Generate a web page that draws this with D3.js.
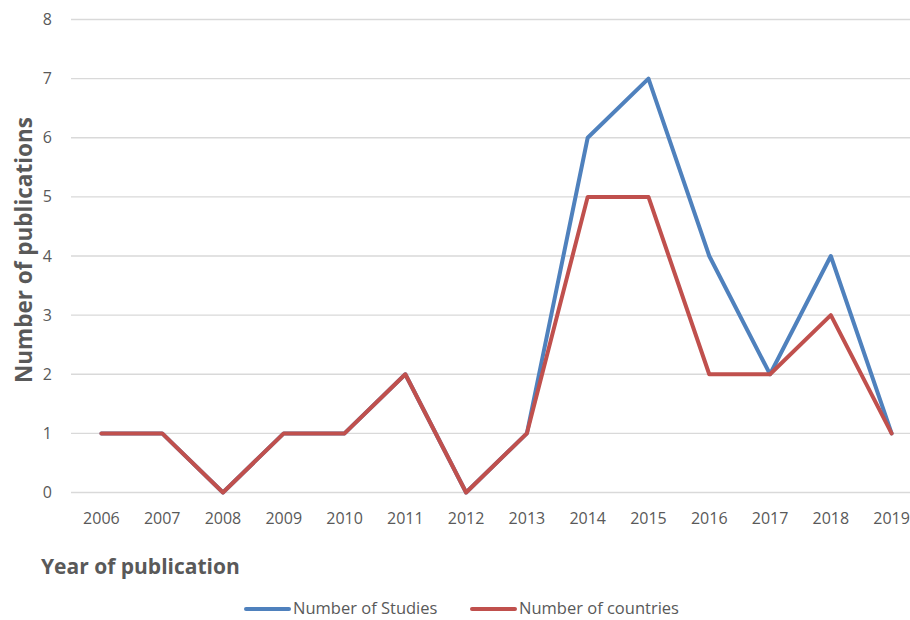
<!DOCTYPE html>
<html>
<head>
<meta charset="utf-8">
<script src="https://cdn.jsdelivr.net/npm/d3@7"></script>
<style>
  body { margin: 0; background: #fff; }
  svg { font-family: "Open Sans", sans-serif; }
</style>
</head>
<body>
<div id="chart"></div>
<script>
const years = ["2006", "2007", "2008", "2009", "2010", "2011", "2012", "2013", "2014", "2015", "2016", "2017", "2018", "2019"];
const studies = [1, 1, 0, 1, 1, 2, 0, 1, 6, 7, 4, 2, 4, 1];
const countries = [1, 1, 0, 1, 1, 2, 0, 1, 5, 5, 2, 2, 3, 1];
const yTicks = [0, 1, 2, 3, 4, 5, 6, 7, 8];

const series = [
	{ name: "Number of Studies", values: studies, color: "#4F81BD" },
	{ name: "Number of countries", values: countries, color: "#C0504D" }
];

const width = 910;
const height = 620;

const svg = d3.select("#chart")
	.append("svg")
	.attr("width", width)
	.attr("height", height);

const x = d3.scaleBand()
	.domain(years)
	.range([71, 922]);

const y = d3.scaleLinear()
	.domain([0, 8])
	.range([492.5, 19.5]);

// gridlines
svg.append("g")
	.selectAll("line")
	.data(yTicks)
	.join("line")
	.attr("x1", 71)
	.attr("x2", width)
	.attr("y1", d => y(d))
	.attr("y2", d => y(d))
	.attr("stroke", "#d9d9d9")
	.attr("stroke-width", 1.3);

// y tick labels
svg.append("g")
	.selectAll("text")
	.data(yTicks)
	.join("text")
	.attr("x", 52)
	.attr("y", d => y(d))
	.attr("dy", "0.35em")
	.attr("text-anchor", "end")
	.attr("fill", "#595959")
	.style("font-size", "16px")
	.text(d => d);

// x tick labels
svg.append("g")
	.selectAll("text")
	.data(years)
	.join("text")
	.attr("x", d => x(d) + x.bandwidth() / 2)
	.attr("y", 524)
	.attr("text-anchor", "middle")
	.attr("fill", "#595959")
	.style("font-size", "16px")
	.text(d => d);

const line = d3.line()
	.x((d, i) => x(years[i]) + x.bandwidth() / 2)
	.y(d => y(d));

svg.append("g")
	.selectAll("path")
	.data(series)
	.join("path")
	.attr("d", d => line(d.values))
	.attr("fill", "none")
	.attr("stroke", d => d.color)
	.attr("stroke-width", 4)
	.attr("stroke-linejoin", "round")
	.attr("stroke-linecap", "round");

// axis titles
svg.append("text")
	.attr("x", 41)
	.attr("y", 574)
	.attr("fill", "#595959")
	.style("font-size", "21px")
	.style("font-weight", "bold")
	.text("Year of publication");

svg.append("text")
	.attr("transform", "translate(32,250) rotate(-90)")
	.attr("text-anchor", "middle")
	.attr("fill", "#595959")
	.style("font-size", "22.5px")
	.style("font-weight", "bold")
	.text("Number of publications");

// legend
const legendX = [246, 472];
const legend = svg.append("g")
	.selectAll("g")
	.data(series)
	.join("g")
	.attr("transform", (d, i) => `translate(${legendX[i]},609)`);

legend.append("line")
	.attr("x1", 0)
	.attr("x2", 43)
	.attr("stroke", d => d.color)
	.attr("stroke-width", 4)
	.attr("stroke-linecap", "round");

legend.append("text")
	.attr("x", 47)
	.attr("dy", "0.3em")
	.attr("fill", "#595959")
	.style("font-size", "16.5px")
	.text(d => d.name);
</script>
</body>
</html>
